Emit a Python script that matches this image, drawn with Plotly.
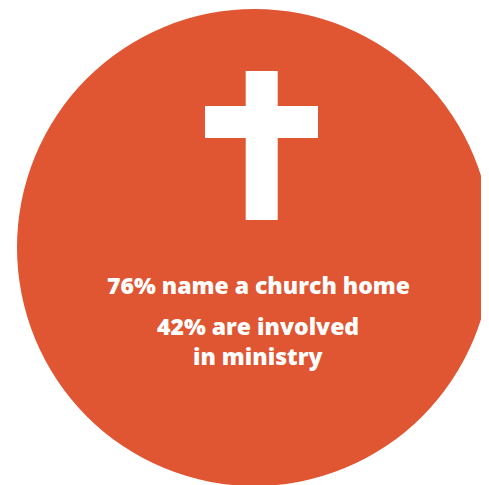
import plotly.graph_objects as go

W, H = 489, 485
OFF = 8  # page body margin
ORANGE = "#E05532"

# data
stat_values = [76, 42]
stat_labels = ["name a church home", "are involved", "in ministry"]

fig = go.Figure()
fig.add_trace(go.Scatter(x=[OFF + 1], y=[OFF + 1], mode="markers", marker=dict(opacity=0),
                         hoverinfo="skip", showlegend=False))

shapes = [
    dict(type="circle", xref="x", yref="y", x0=17, x1=492, y0=9, y1=486,
         fillcolor=ORANGE, line=dict(width=0), layer="below"),
    dict(type="rect", xref="x", yref="y", x0=245.7, x1=277.7, y0=71, y1=220,
         fillcolor="white", line=dict(width=0)),
    dict(type="rect", xref="x", yref="y", x0=205, x1=318, y0=106, y1=138,
         fillcolor="white", line=dict(width=0)),
]

font = dict(family="Open Sans", size=23, color="white", weight=800)
annotations = [
    dict(x=258, y=285, xref="x", yref="y", text=f"{stat_values[0]}% {stat_labels[0]}",
         showarrow=False, font=font, xanchor="center", yanchor="middle"),
    dict(x=257.5, y=326, xref="x", yref="y", text=f"{stat_values[1]}% {stat_labels[1]}",
         showarrow=False, font=font, xanchor="center", yanchor="middle"),
    dict(x=257.5, y=356, xref="x", yref="y", text=f"{stat_labels[2]}",
         showarrow=False, font=font, xanchor="center", yanchor="middle"),
]

fig.update_layout(
    width=W, height=H - OFF,
    margin=dict(l=0, r=0, t=0, b=0),
    paper_bgcolor="white", plot_bgcolor="white",
    xaxis=dict(range=[OFF, W + OFF], visible=False, fixedrange=True),
    yaxis=dict(range=[H, OFF], visible=False, fixedrange=True),
    shapes=shapes, annotations=annotations,
    showlegend=False,
)

fig.write_html("out.html", config={"displayModeBar": False})
